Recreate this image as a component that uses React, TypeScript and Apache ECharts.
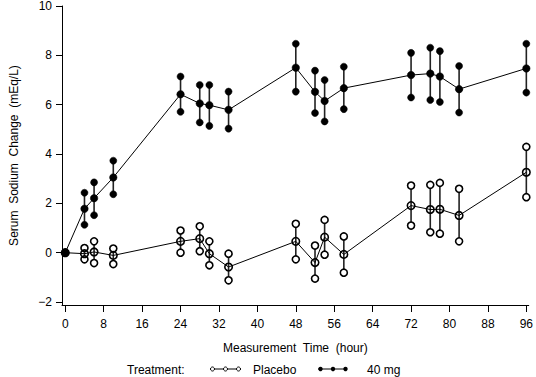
import React, { useEffect, useRef } from "react";
import * as echarts from "echarts";

const hours = [0, 4, 6, 10, 24, 28, 30, 34, 48, 52, 54, 58, 72, 76, 78, 82, 96];
const placeboMean = [0, -0.04, 0.03, -0.11, 0.46, 0.57, -0.04, -0.58, 0.46, -0.4, 0.63, -0.07, 1.91, 1.75, 1.76, 1.51, 3.26];
const placeboUpper = [null, 0.19, 0.46, 0.17, 0.9, 1.07, 0.46, -0.04, 1.17, 0.29, 1.33, 0.66, 2.72, 2.75, 2.83, 2.59, 4.29];
const placeboLower = [null, -0.27, -0.42, -0.46, 0.0, 0.06, -0.51, -1.12, -0.27, -1.05, -0.08, -0.81, 1.1, 0.83, 0.77, 0.46, 2.25];
const mg40Mean = [0, 1.78, 2.21, 3.05, 6.42, 6.05, 5.98, 5.79, 7.5, 6.52, 6.15, 6.67, 7.2, 7.26, 7.14, 6.63, 7.47];
const mg40Upper = [null, 2.43, 2.85, 3.73, 7.14, 6.8, 6.8, 6.53, 8.47, 7.38, 7.0, 7.54, 8.1, 8.31, 8.17, 7.57, 8.47];
const mg40Lower = [null, 1.13, 1.52, 2.37, 5.71, 5.28, 5.14, 5.03, 6.53, 5.66, 5.32, 5.82, 6.29, 6.19, 6.11, 5.68, 6.49];

const xTicks = [0, 8, 16, 24, 32, 40, 48, 56, 64, 72, 80, 88, 96];
const yTicks = [-2, 0, 2, 4, 6, 8, 10];

const seriesNames = ["Placebo", "40 mg"];
const legendTitle = "Treatment:";
const xTitle = "Measurement  Time  (hour)";
const yTitle = "Serum  Sodium  Change  (mEq/L)";

const FONT = "'Liberation Sans', Arial, Helvetica, sans-serif";

function barData(lower: (number | null)[], upper: (number | null)[]) {
  return hours
    .map((h, i) => [h, lower[i], upper[i]])
    .filter((d) => d[1] !== null && d[2] !== null);
}

function makeBarRender(filled: boolean) {
  return (params: any, api: any) => {
    const x = api.value(0);
    const lo = api.coord([x, api.value(1)]);
    const hi = api.coord([x, api.value(2)]);
    const r = 3.5;
    return {
      type: "group",
      children: [
        {
          type: "line",
          shape: { x1: hi[0], y1: hi[1], x2: lo[0], y2: lo[1] },
          style: { stroke: "#222", lineWidth: 1.6 },
        },
        {
          type: "circle",
          shape: { cx: hi[0], cy: hi[1], r },
          style: { fill: filled ? "#000" : "#fff", stroke: "#000", lineWidth: filled ? 0.5 : 1.6 },
        },
        {
          type: "circle",
          shape: { cx: lo[0], cy: lo[1], r },
          style: { fill: filled ? "#000" : "#fff", stroke: "#000", lineWidth: filled ? 0.5 : 1.6 },
        },
      ],
    };
  };
}

export default function App() {
  const ref = useRef<HTMLDivElement>(null);
  useEffect(() => {
    if (!ref.current) return;
    const chart = echarts.init(ref.current, null, { renderer: "svg" });
    const legendY = 369;
    const option: any = {
      animation: false,
      backgroundColor: "#fff",
      grid: { left: 60, right: 4.5, top: 5, bottom: 72, containLabel: false },
      xAxis: {
        type: "value",
        min: -0.68,
        max: 96.5,
        name: xTitle,
        nameLocation: "middle",
        nameGap: 37,
        nameTextStyle: { fontFamily: FONT, fontSize: 12, color: "#000" },
        axisLine: { onZero: false, lineStyle: { color: "#000", width: 1 } },
        axisTick: { show: true, length: 7, customValues: xTicks, lineStyle: { color: "#000" } },
        axisLabel: {
          customValues: xTicks,
          margin: 13,
          fontFamily: FONT,
          fontSize: 12,
          color: "#000",
        },
        splitLine: { show: false },
      },
      yAxis: {
        type: "value",
        min: -2.12,
        max: 10,
        name: yTitle,
        nameLocation: "middle",
        nameGap: 42,
        nameRotate: 90,
        nameTextStyle: { fontFamily: FONT, fontSize: 12, color: "#000" },
        axisLine: { show: true, onZero: false, lineStyle: { color: "#000", width: 1 } },
        axisTick: { show: true, length: 6, customValues: yTicks, lineStyle: { color: "#000" } },
        axisLabel: {
          customValues: yTicks,
          margin: 10,
          fontFamily: FONT,
          fontSize: 12,
          color: "#000",
          formatter: (v: number) => String(v).replace("-", "\u2212"),
        },
        splitLine: { show: false },
      },
      series: [
        {
          type: "custom",
          name: seriesNames[0] + " range",
          data: barData(placeboLower, placeboUpper),
          encode: { x: 0, y: [1, 2] },
          renderItem: makeBarRender(false),
          clip: false,
          z: 2,
        },
        {
          type: "custom",
          name: seriesNames[1] + " range",
          data: barData(mg40Lower, mg40Upper),
          encode: { x: 0, y: [1, 2] },
          renderItem: makeBarRender(true),
          clip: false,
          z: 2,
        },
        {
          type: "line",
          name: seriesNames[0],
          data: hours.map((h, i) => [h, placeboMean[i]]),
          symbol: "circle",
          symbolSize: 7.5,
          lineStyle: { color: "#000", width: 1 },
          itemStyle: { color: "rgba(0,0,0,0)", borderColor: "#000", borderWidth: 1.6 },
          z: 4,
        },
        {
          type: "line",
          name: seriesNames[1],
          data: hours.map((h, i) => [h, mg40Mean[i]]),
          symbol: "circle",
          symbolSize: 7.5,
          lineStyle: { color: "#000", width: 1 },
          itemStyle: { color: "#000", borderColor: "#000", borderWidth: 0.5 },
          z: 4,
        },
      ],
      graphic: [
        {
          type: "text",
          x: 127,
          y: legendY + 1,
          style: { text: legendTitle, font: `12px ${FONT}`, fill: "#000", verticalAlign: "middle" },
        },
        { type: "line", shape: { x1: 210, y1: legendY, x2: 241, y2: legendY }, style: { stroke: "#000", lineWidth: 1 } },
        { type: "circle", shape: { cx: 212.5, cy: legendY, r: 2 }, style: { fill: "#fff", stroke: "#000", lineWidth: 1 } },
        { type: "circle", shape: { cx: 225.5, cy: legendY, r: 2 }, style: { fill: "#fff", stroke: "#000", lineWidth: 1 } },
        { type: "circle", shape: { cx: 238.5, cy: legendY, r: 2 }, style: { fill: "#fff", stroke: "#000", lineWidth: 1 } },
        {
          type: "text",
          x: 253,
          y: legendY + 1,
          style: { text: seriesNames[0], font: `12px ${FONT}`, fill: "#000", verticalAlign: "middle" },
        },
        { type: "line", shape: { x1: 318, y1: legendY, x2: 347, y2: legendY }, style: { stroke: "#000", lineWidth: 1 } },
        { type: "circle", shape: { cx: 320.5, cy: legendY, r: 2.2 }, style: { fill: "#000" } },
        { type: "circle", shape: { cx: 333, cy: legendY, r: 2.2 }, style: { fill: "#000" } },
        { type: "circle", shape: { cx: 345.5, cy: legendY, r: 2.2 }, style: { fill: "#000" } },
        {
          type: "text",
          x: 367,
          y: legendY + 1,
          style: { text: seriesNames[1], font: `12px ${FONT}`, fill: "#000", verticalAlign: "middle" },
        },
      ],
    };
    chart.setOption(option);
    return () => chart.dispose();
  }, []);
  return (
    <div
      ref={ref}
      style={{ position: "fixed", left: 0, top: 0, width: 536, height: 377, background: "#fff" }}
    />
  );
}
